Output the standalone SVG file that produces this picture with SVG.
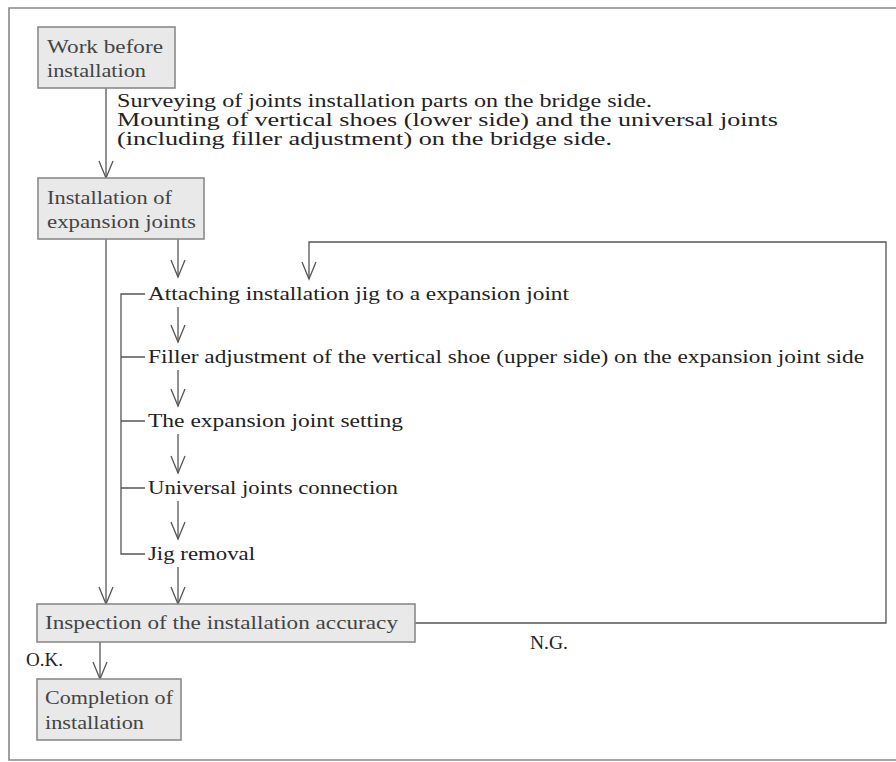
<svg xmlns="http://www.w3.org/2000/svg" width="896" height="762" viewBox="0 0 896 762">
<style>
.box{fill:#e9e9e9;stroke:#8a8a8a;stroke-width:1.6}
.bt{font-family:"Liberation Serif","DejaVu Serif",serif;font-size:19px;fill:#444}
.t{font-family:"Liberation Serif","DejaVu Serif",serif;font-size:18px;fill:#222}
.ln{fill:none;stroke:#555;stroke-width:1.3}
.ar{fill:none;stroke:#555;stroke-width:1.3;marker-end:url(#v)}
.frame{fill:none;stroke:#888;stroke-width:1.6}
</style>
<defs>
<marker id="v" markerUnits="userSpaceOnUse" markerWidth="40" markerHeight="40" refX="0" refY="0" orient="auto" viewBox="-20 -20 40 40" overflow="visible">
<path d="M-17,-7 L0,0 L-17,7" fill="none" stroke="#555" stroke-width="1.3"/>
</marker>
</defs>
<rect width="896" height="762" fill="#fff"/>
<path class="frame" d="M896,8 H9 V760 H896"/>

<g id="connectors">
<path class="ar" d="M106,88 V178"/>
<path class="ar" d="M106,239 V604"/>
<path class="ar" d="M178,239 V277"/>
<path class="ar" d="M415,623 H886 V242 H309 V279"/>
<path class="ln" d="M145,294 H121 V554 H145"/>
<path class="ln" d="M121,357 H145 M121,421 H145 M121,488 H145"/>
<path class="ar" d="M178,307 V342"/>
<path class="ar" d="M178,370 V406"/>
<path class="ar" d="M178,434 V473"/>
<path class="ar" d="M178,501 V539"/>
<path class="ar" d="M178,567 V604"/>
<path class="ar" d="M100,642 V679"/>
</g>

<g id="n1">
<rect class="box" x="38" y="27" width="137" height="61"/>
<text class="bt" x="47" y="53" textLength="116" lengthAdjust="spacingAndGlyphs">Work before</text>
<text class="bt" x="47" y="77" textLength="99" lengthAdjust="spacingAndGlyphs">installation</text>
</g>
<g id="note1">
<text class="t" x="117" y="107" textLength="535" lengthAdjust="spacingAndGlyphs">Surveying of joints installation parts on the bridge side.</text>
<text class="t" x="117" y="126" textLength="661" lengthAdjust="spacingAndGlyphs">Mounting of vertical shoes (lower side) and the universal joints</text>
<text class="t" x="117" y="145" textLength="495" lengthAdjust="spacingAndGlyphs">(including filler adjustment) on the bridge side.</text>
</g>
<g id="n2">
<rect class="box" x="38" y="178" width="166" height="61"/>
<text class="bt" x="47" y="204" textLength="125" lengthAdjust="spacingAndGlyphs">Installation of</text>
<text class="bt" x="47" y="228" textLength="149" lengthAdjust="spacingAndGlyphs">expansion joints</text>
</g>
<g id="s1"><text class="t" x="148" y="300" textLength="421" lengthAdjust="spacingAndGlyphs">Attaching installation jig to a expansion joint</text></g>
<g id="s2"><text class="t" x="148" y="363" textLength="716" lengthAdjust="spacingAndGlyphs">Filler adjustment of the vertical shoe (upper side) on the expansion joint side</text></g>
<g id="s3"><text class="t" x="148" y="427" textLength="255" lengthAdjust="spacingAndGlyphs">The expansion joint setting</text></g>
<g id="s4"><text class="t" x="148" y="494" textLength="250" lengthAdjust="spacingAndGlyphs">Universal joints connection</text></g>
<g id="s5"><text class="t" x="148" y="560" textLength="107" lengthAdjust="spacingAndGlyphs">Jig removal</text></g>
<g id="n3">
<rect class="box" x="37" y="604" width="378" height="38"/>
<text class="bt" x="45" y="629" textLength="353" lengthAdjust="spacingAndGlyphs">Inspection of the installation accuracy</text>
</g>
<g id="lbl-ok"><text class="t" x="26" y="666" textLength="37" lengthAdjust="spacingAndGlyphs">O.K.</text></g>
<g id="lbl-ng"><text class="t" x="530" y="649" textLength="38" lengthAdjust="spacingAndGlyphs">N.G.</text></g>
<g id="n4">
<rect class="box" x="37" y="679" width="144" height="61"/>
<text class="bt" x="45" y="704" textLength="128" lengthAdjust="spacingAndGlyphs">Completion of</text>
<text class="bt" x="45" y="729" textLength="99" lengthAdjust="spacingAndGlyphs">installation</text>
</g>
</svg>
